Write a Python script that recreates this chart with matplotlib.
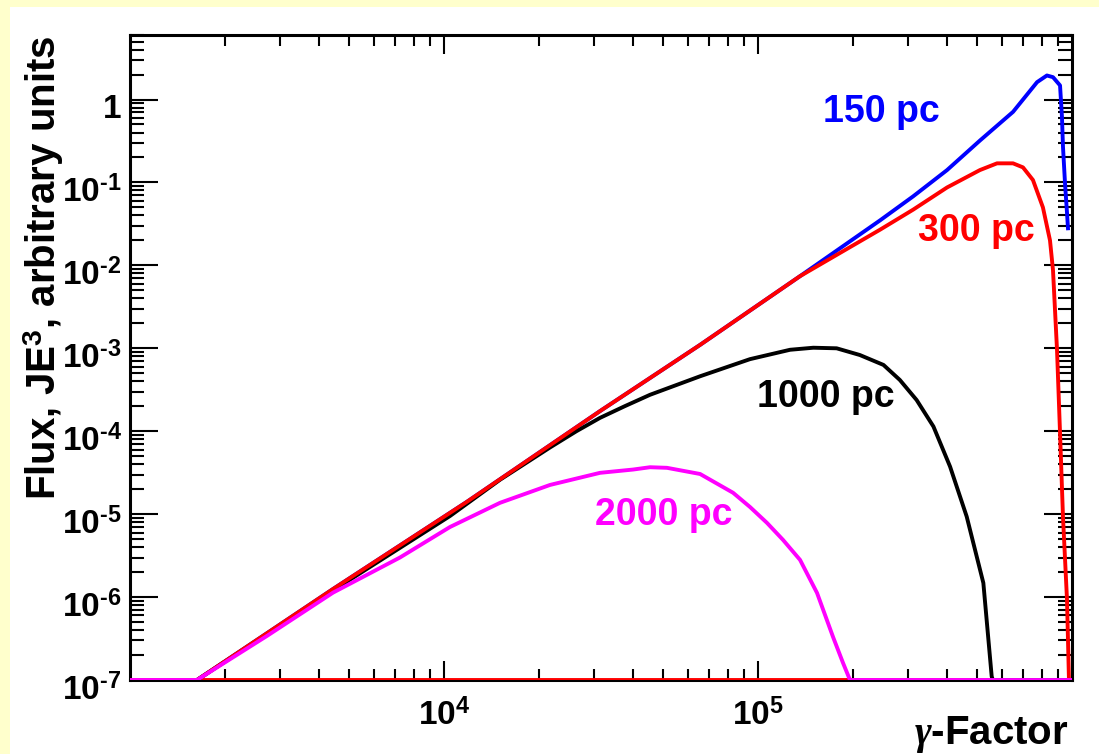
import numpy as np
import matplotlib
matplotlib.use("Agg")
import matplotlib.pyplot as plt
from matplotlib import ticker as mticker
from matplotlib.patches import Rectangle
from matplotlib.transforms import ScaledTranslation

# ---- data (gamma factor, flux) ----
gamma_150 = [1.0e3, 1.635e3, 4.43e3, 1.18e4, 3.14e4, 6.54e4, 1.36e5, 2.45e5,
             3.12e5, 4.0e5, 5.09e5, 6.49e5, 7.74e5, 8.32e5, 8.70e5, 9.16e5,
             9.29e5, 9.36e5, 9.50e5, 9.64e5, 9.71e5]
flux_150 = [1e-7, 1e-7, 1.25e-6, 1.4e-5, 1.75e-4, 1.1e-3, 7.4e-3, 3.5e-2,
            6.8e-2, 0.141, 0.32, 0.71, 1.62, 1.95, 1.86, 1.48,
            0.62, 0.27, 9.8e-2, 4.3e-2, 2.8e-2]

gamma_300 = [1.0e3, 1.635e3, 4.43e3, 1.18e4, 3.14e4, 6.54e4, 1.36e5, 2.45e5,
             3.12e5, 4.0e5, 5.09e5, 5.77e5, 6.49e5, 6.98e5, 7.51e5, 8.08e5,
             8.51e5, 8.70e5, 8.96e5, 9.16e5, 9.36e5, 9.64e5, 9.78e5, 1.0e6]
flux_300 = [1e-7, 1e-7, 1.25e-6, 1.4e-5, 1.75e-4, 1.1e-3, 7.4e-3, 2.7e-2,
            4.7e-2, 8.7e-2, 0.141, 0.170, 0.170, 0.152, 0.107, 5.0e-2,
            2.0e-2, 8.7e-3, 9.5e-4, 9.5e-5, 9.3e-6, 9.3e-7, 1e-7, 1e-7]

gamma_1000 = [1.0e3, 1.635e3, 4.43e3, 1.045e4, 1.508e4, 2.18e4, 2.64e4, 3.14e4,
              3.76e4, 4.53e4, 6.54e4, 9.43e4, 1.265e5, 1.50e5, 1.78e5, 2.11e5,
              2.51e5, 2.83e5, 3.20e5, 3.62e5, 4.09e5, 4.62e5, 5.22e5, 5.55e5,
              5.6e5, 1.0e6]
flux_1000 = [1e-7, 1e-7, 1.2e-6, 9.5e-6, 2.6e-5, 6.4e-5, 1.0e-4, 1.45e-4,
             2.0e-4, 2.75e-4, 4.6e-4, 7.4e-4, 9.6e-4, 1.016e-3, 1.0e-3, 8.3e-4,
             6.3e-4, 4.15e-4, 2.38e-4, 1.14e-4, 3.74e-5, 9.35e-6, 1.48e-6, 1.1e-7,
             1e-7, 1e-7]

gamma_2000 = [1.0e3, 1.635e3, 2.73e3, 4.43e3, 7.24e3, 1.045e4, 1.508e4, 2.176e4,
              3.14e4, 4.0e4, 4.53e4, 5.13e4, 6.54e4, 8.33e4, 9.43e4, 1.068e5,
              1.201e5, 1.361e5, 1.542e5, 1.734e5, 1.865e5, 1.963e5, 1.0e6]
flux_2000 = [1e-7, 1e-7, 3.4e-7, 1.13e-6, 3.0e-6, 7.0e-6, 1.37e-5, 2.25e-5,
             3.15e-5, 3.45e-5, 3.68e-5, 3.62e-5, 3.05e-5, 1.81e-5, 1.22e-5, 7.85e-6,
             4.9e-6, 2.81e-6, 1.12e-6, 3.3e-7, 1.61e-7, 1e-7, 1e-7]

# empty bins sit on the frame floor
floor_gamma = [1.0e3, 1.0e6]
floor_flux = [1e-7, 1e-7]

xtick_vals = [1e4, 1e5]
xtick_labels = [r"$10^{4}$", r"$10^{5}$"]
ytick_vals = [1e-7, 1e-6, 1e-5, 1e-4, 1e-3, 1e-2, 1e-1, 1]
ytick_labels = [r"$10^{\text{-}7}$", r"$10^{\text{-}6}$", r"$10^{\text{-}5}$",
                r"$10^{\text{-}4}$", r"$10^{\text{-}3}$", r"$10^{\text{-}2}$",
                r"$10^{\text{-}1}$", "1"]

plt.rcParams.update({
    'font.family': 'Liberation Sans',
    'font.weight': 'bold',
    'mathtext.fontset': 'custom',
    'mathtext.rm': 'Liberation Sans:bold',
    'mathtext.bf': 'Liberation Sans:bold',
    'mathtext.it': 'Liberation Serif:italic',
    'axes.linewidth': 2.2,
})

W, H = 1099, 754
fig = plt.figure(figsize=(W/100, H/100), dpi=100, facecolor='#FFFFCC')
fig.patches.append(Rectangle((10/W, 0), 1, (H-7)/H, transform=fig.transFigure,
                             facecolor='white', edgecolor='none', zorder=-10))
ax = fig.add_axes([130/W, 74/H, 942/W, 645/H])
ax.set_facecolor('white')

lw = 2.8
ax.plot(floor_gamma, floor_flux, color='red', lw=lw, zorder=3)
ax.plot(gamma_150, flux_150, color='#0000FF', lw=lw, zorder=3)
ax.plot(gamma_1000, flux_1000, color='black', lw=lw, zorder=3)
ax.plot(gamma_300, flux_300, color='#FF0000', lw=lw, zorder=3)
ax.plot(gamma_2000, flux_2000, color='#FF00FF', lw=lw, zorder=3)

ax.set_xscale('log')
ax.set_yscale('log')
ax.set_xlim(1e3, 1e6)
ax.set_ylim(1e-7, 6.0)

ax.xaxis.set_major_locator(mticker.FixedLocator(xtick_vals))
ax.xaxis.set_major_formatter(mticker.FixedFormatter(xtick_labels))
ax.xaxis.set_minor_locator(mticker.LogLocator(base=10, subs=np.arange(2, 10), numticks=99))
ax.xaxis.set_minor_formatter(mticker.NullFormatter())
ax.yaxis.set_major_locator(mticker.FixedLocator(ytick_vals))
ax.yaxis.set_major_formatter(mticker.FixedFormatter(ytick_labels))
ax.yaxis.set_minor_locator(mticker.LogLocator(base=10, subs=np.arange(2, 10), numticks=99))
ax.yaxis.set_minor_formatter(mticker.NullFormatter())

ax.tick_params(axis='both', which='both', direction='in', top=True, right=True,
               width=1.5, labelsize=24)
ax.tick_params(axis='x', which='major', length=14, pad=14)
ax.tick_params(axis='x', which='minor', length=8)
ax.tick_params(axis='y', which='major', length=20, pad=6)
ax.tick_params(axis='y', which='minor', length=10)

offset = ScaledTranslation(0, -5/72, fig.dpi_scale_trans)
for lab in ax.get_yticklabels():
    lab.set_transform(lab.get_transform() + offset)

ax.set_xlabel(r"$\gamma$-Factor", fontsize=29, fontweight='bold', ha='right', va='top')
ax.xaxis.set_label_coords(0.996, -0.053)
ax.set_ylabel(r"Flux, JE$^{3}$, arbitrary units", fontsize=29, fontweight='bold',
              ha='right', va='bottom')
ax.yaxis.set_label_coords(-0.068, 1.0)

ax.text(1.61e5, 0.537, "150 pc", color='#0000FF', fontsize=27, fontweight='bold')
ax.text(3.23e5, 0.0199, "300 pc", color='#FF0000', fontsize=27, fontweight='bold')
ax.text(9.93e4, 1.98e-4, "1000 pc", color='black', fontsize=27, fontweight='bold')
ax.text(3.03e4, 7.43e-6, "2000 pc", color='#FF00FF', fontsize=27, fontweight='bold')

fig.savefig("out.png", dpi=100, facecolor=fig.get_facecolor())
